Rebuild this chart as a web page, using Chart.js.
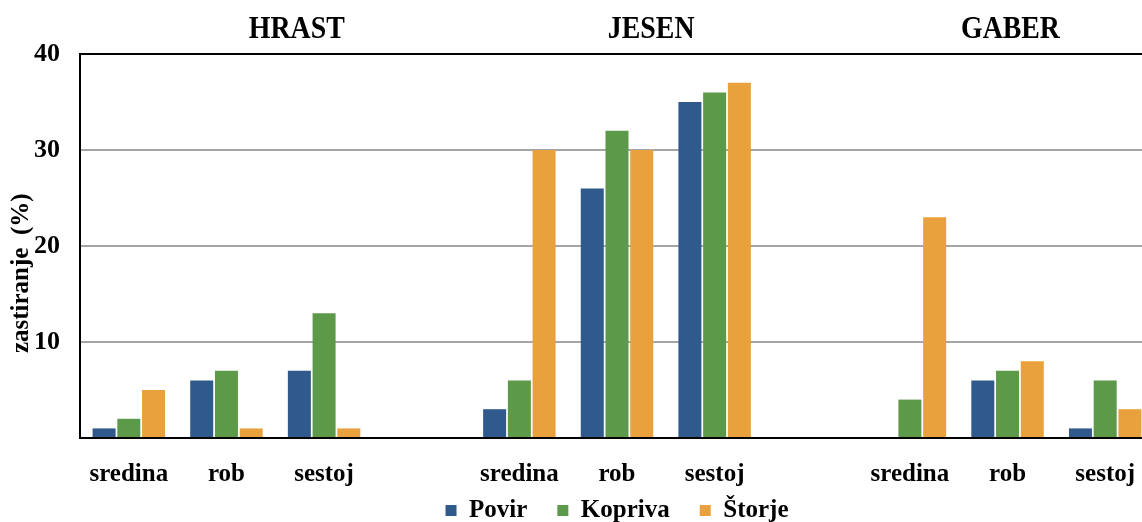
<!DOCTYPE html>
<html>
<head>
<meta charset="utf-8">
<script src="https://cdn.jsdelivr.net/npm/chart.js@4/dist/chart.umd.min.js"></script>
<style>
  html, body { margin: 0; padding: 0; background: #fff; overflow: hidden; width: 1142px; height: 522px; }
  #wrap { position: relative; width: 1156px; height: 533px; }
</style>
</head>
<body>
<div id="wrap"><canvas id="c" width="1156" height="533"></canvas></div>
<script>
// Site groups and the position inside each stand (empty slots separate the groups)
const groups = ['HRAST', 'JESEN', 'GABER'];
const categories = ['sredina', 'rob', 'sestoj', '', 'sredina', 'rob', 'sestoj', '', 'sredina', 'rob', 'sestoj'];

// Cover (%) per plant group
const povir   = [1, 6, 7, null, 3, 26, 35, null, 0, 6, 1];
const kopriva = [2, 7, 13, null, 6, 32, 36, null, 4, 7, 6];
const storje  = [5, 1, 1, null, 30, 30, 37, null, 23, 8, 3];

const yTicks = [0, 10, 20, 30, 40];
const yTitle = 'zastiranje  (%)';

const serif = "'Liberation Serif', 'Times New Roman', serif";

// Group headings above the plot (anchored on the category scale) and the
// rotated value-axis caption, which sits a little below the axis middle
const headings = {
  id: 'headings',
  afterDraw(chart) {
    const x = chart.scales.x;
    const area = chart.chartArea;
    const anchors = [1.72, 5.35, 9.03];
    const ctx = chart.ctx;
    ctx.save();
    ctx.fillStyle = '#000';
    ctx.textAlign = 'center';
    ctx.textBaseline = 'middle';
    ctx.font = 'bold 32px ' + serif;
    groups.forEach((g, i) => {
      ctx.save();
      ctx.translate(x.getPixelForValue(anchors[i]), 30);
      ctx.scale(0.87, 1);
      ctx.fillText(g, 0, 0);
      ctx.restore();
    });
    ctx.translate(22, area.top + (area.bottom - area.top) * 0.571);
    ctx.rotate(-Math.PI / 2);
    ctx.font = 'bold 25px ' + serif;
    ctx.fillText(yTitle, 0, 0);
    ctx.restore();
  }
};

new Chart(document.getElementById('c'), {
  type: 'bar',
  data: {
    labels: categories,
    datasets: [
      { label: 'Povir',   data: povir,   backgroundColor: '#2F5A8B' },
      { label: 'Kopriva', data: kopriva, backgroundColor: '#5C9949' },
      { label: 'Štorje',  data: storje,  backgroundColor: '#E8A13D' }
    ]
  },
  options: {
    responsive: false,
    animation: false,
    layout: { padding: { top: 54, left: 0, right: 2, bottom: 0 } },
    datasets: { bar: { categoryPercentage: 0.76, barPercentage: 0.93, borderWidth: 0 } },
    plugins: {
      tooltip: { enabled: false },
      legend: {
        position: 'bottom',
        fullSize: false,
        labels: {
          color: '#000',
          font: { family: serif, size: 25, weight: 'bold' },
          boxWidth: 11,
          boxHeight: 11,
          padding: 30
        }
      }
    },
    scales: {
      x: {
        // labels sit below the axis line without enlarging the axis box
        afterFit(scale) { scale.height = 30; },
        grid: { display: false, drawTicks: false },
        border: { display: true, color: '#000', width: 2 },
        ticks: {
          color: '#000',
          mirror: true,
          padding: -52,
          maxRotation: 0,
          autoSkip: false,
          font: { family: serif, size: 25, weight: 'bold' }
        }
      },
      y: {
        min: 0,
        max: 40,
        afterFit(scale) { scale.width = 80; },
        afterBuildTicks(scale) { scale.ticks = yTicks.map(v => ({ value: v })); },
        grid: {
          drawTicks: false,
          lineWidth: 2,
          color: c => (c.tick && (c.tick.value === 40 || c.tick.value === 0)) ? '#000' : '#A6A6A6'
        },
        border: { display: true, color: '#000', width: 2 },
        ticks: {
          color: '#000',
          padding: 20,
          font: { family: serif, size: 26, weight: 'bold' },
          callback: v => (v === 0 ? '' : v)
        },
        title: { display: false }
      }
    }
  },
  plugins: [headings]
});
</script>
</body>
</html>
